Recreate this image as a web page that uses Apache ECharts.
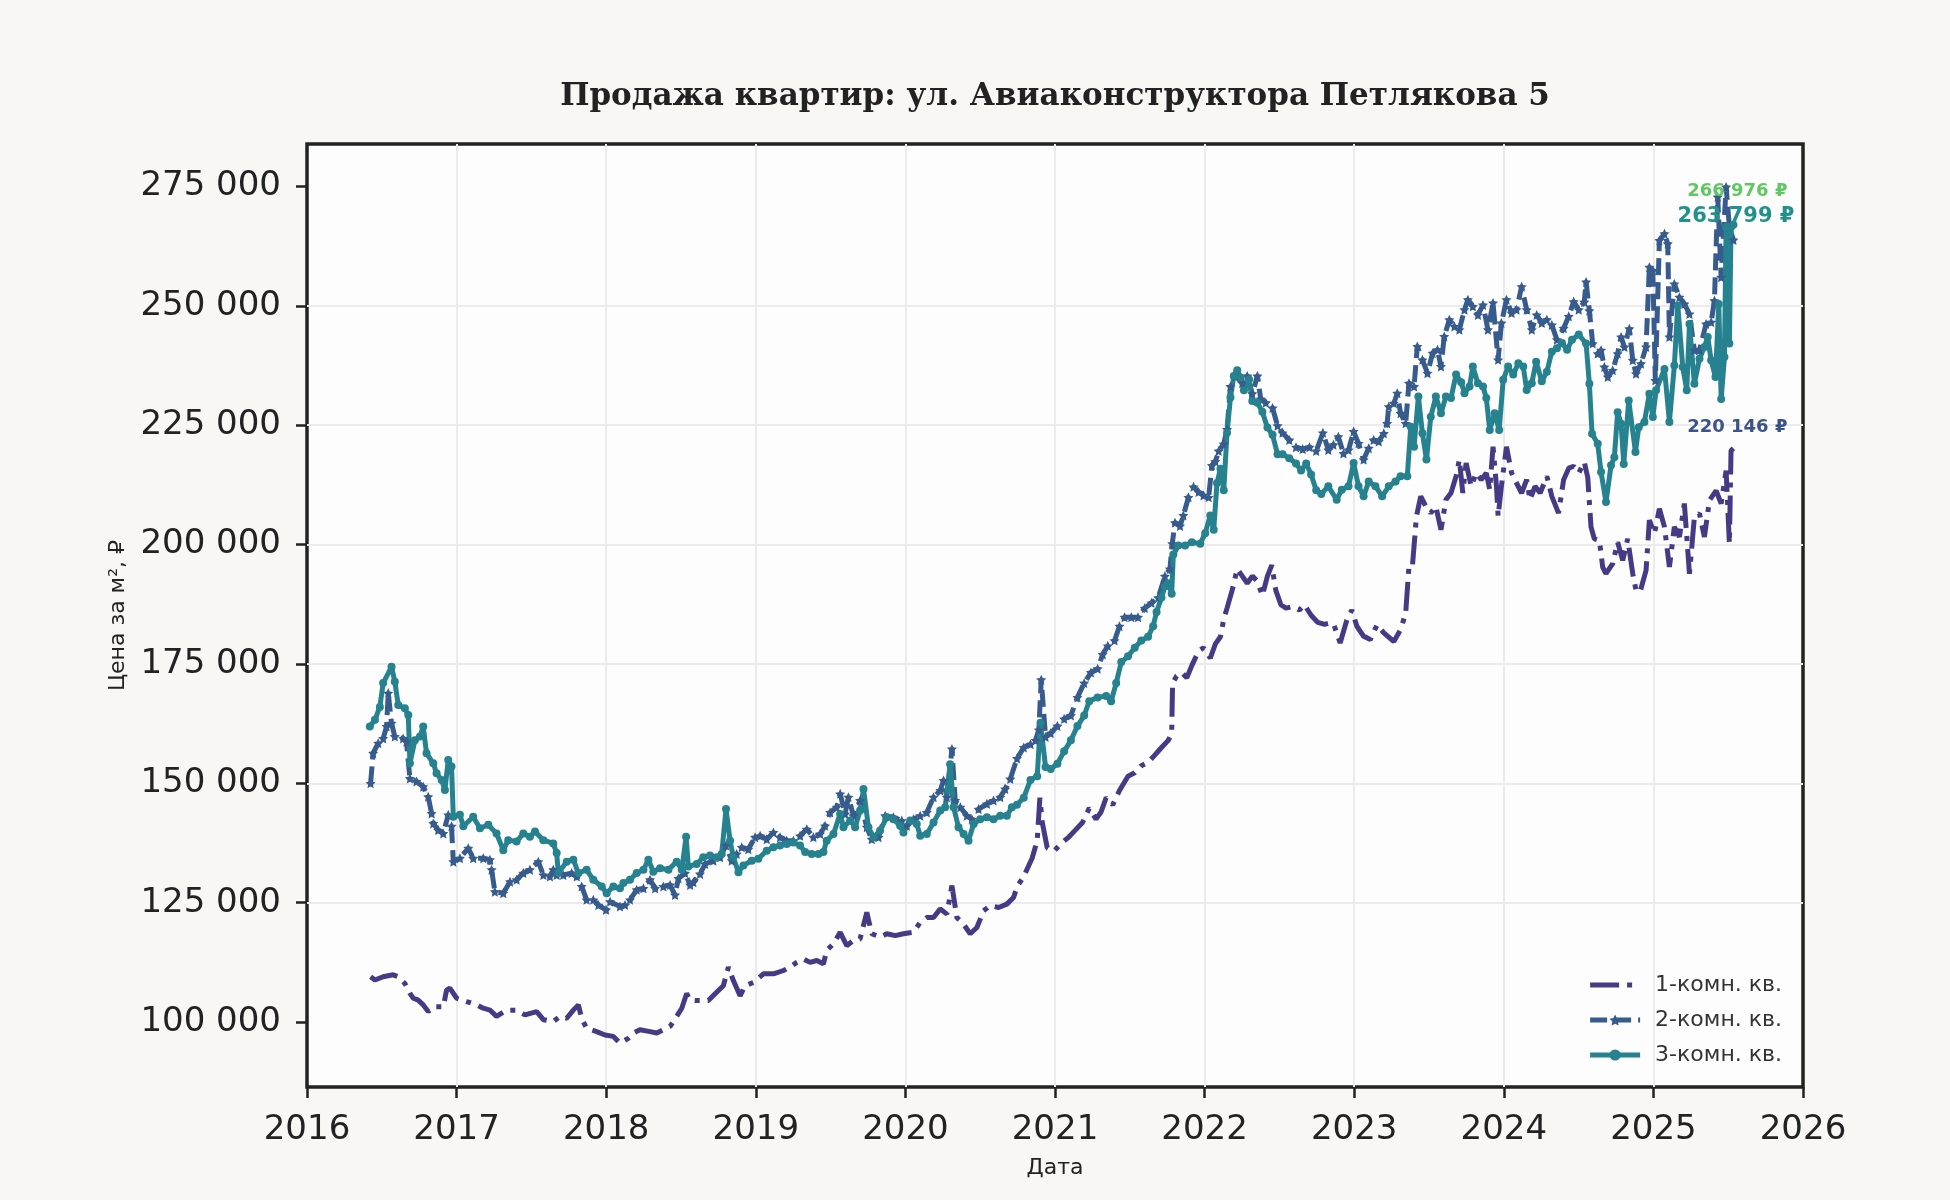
<!DOCTYPE html>
<html>
<head>
<meta charset="utf-8">
<script src="https://cdn.jsdelivr.net/npm/echarts@6.0.0/dist/echarts.min.js"></script>
<style>
  html, body { margin: 0; padding: 0; background: #f8f7f3; }
  #chart { width: 1950px; height: 1200px; }
</style>
</head>
<body>
<div id="chart"></div>
<script>
// [дата (доля года), цена за м²]
const rooms1 = [
  [2016.425,109500],[2016.454,108800],[2016.509,109500],[2016.576,109900],[2016.610,109500],[2016.654,108100],[2016.688,106000],[2016.710,105000],[2016.743,104600],[2016.777,103600],[2016.810,102200],[2016.844,103200],[2016.911,103200],[2016.933,106700],[2016.955,107100],[2017.000,105000],[2017.067,104300],[2017.134,103600],[2017.178,102900],[2017.223,102500],[2017.267,101200],[2017.334,102500],[2017.401,102500],[2017.457,101500],[2017.535,102200],[2017.580,100500],[2017.646,100100],[2017.691,101200],[2017.736,100800],[2017.780,102500],[2017.814,103600],[2017.836,100800],[2017.869,98700],[2017.936,98000],[2017.992,97300],[2018.048,97000],[2018.092,95600],[2018.148,96600],[2018.182,97700],[2018.226,98400],[2018.293,98000],[2018.338,97700],[2018.382,98400],[2018.427,99100],[2018.471,101200],[2018.505,102900],[2018.538,106000],[2018.561,104600],
  [2018.605,104500],[2018.683,104500],[2018.750,106600],[2018.783,107600],[2018.817,111500],[2018.850,108700],[2018.895,105500],[2018.928,107600],[2018.984,108300],[2019.051,110100],[2019.118,110100],[2019.185,110800],[2019.229,111500],[2019.274,112500],[2019.318,113200],[2019.363,112500],[2019.408,112900],[2019.452,112200],[2019.474,115000],[2019.519,116400],[2019.564,118800],[2019.608,116000],[2019.653,117100],[2019.697,117400],[2019.742,123000],[2019.775,118500],[2019.831,117800],[2019.876,118500],[2019.932,118100],[2019.987,118500],[2020.054,118800],[2020.099,120900],[2020.143,121900],[2020.188,121900],[2020.233,123700],[2020.277,122600],[2020.311,128600],[2020.344,121900],[2020.389,120500],[2020.433,118500],[2020.478,119800],[2020.522,123300],[2020.567,124400],[2020.623,124000],[2020.678,124700],[2020.723,126100],
  [2020.746,128300],[2020.791,130500],[2020.847,134300],[2020.881,138000],[2020.899,147000],[2020.915,141800],[2020.948,136500],[2020.993,135800],[2021.038,137300],[2021.094,138800],[2021.139,140300],[2021.184,141800],[2021.229,144800],[2021.274,142500],[2021.308,144000],[2021.342,147000],[2021.386,145500],[2021.431,148500],[2021.488,151500],[2021.533,152200],[2021.577,153700],[2021.622,154400],[2021.667,155900],[2021.712,157500],[2021.757,159000],[2021.780,160500],[2021.786,171000],[2021.813,172500],[2021.847,173200],[2021.881,172100],[2021.915,174700],[2021.960,177700],[2021.993,178400],[2022.038,176200],[2022.072,179200],[2022.106,180700],[2022.128,184400],[2022.150,186700],[2022.184,190400],[2022.218,194900],[2022.252,193400],[2022.285,191900],[2022.319,193400],[2022.353,192300],[2022.386,189300],[2022.420,193400],[2022.449,195700],[2022.476,190400],[2022.510,187400],[2022.544,186700],[2022.589,187000],[2022.634,186300],[2022.667,187400],[2022.712,185200],[2022.757,183700],[2022.802,183300],
  [2022.827,183500],[2022.861,183500],[2022.906,179400],[2022.951,184200],[2022.984,186300],[2023.018,182900],[2023.063,180800],[2023.108,180100],[2023.153,183200],[2023.198,181500],[2023.265,179700],[2023.310,182200],[2023.344,185600],[2023.366,195400],[2023.389,195400],[2023.416,205900],[2023.445,210100],[2023.479,208000],[2023.512,206600],[2023.546,208000],[2023.580,203100],[2023.613,209400],[2023.647,210800],[2023.681,214300],[2023.703,217800],[2023.726,210800],[2023.748,217100],[2023.782,212200],[2023.816,215000],[2023.849,213600],[2023.883,215000],[2023.906,211500],[2023.928,220500],[2023.951,212200],[2023.962,205900],[2023.984,212200],[2024.018,220500],[2024.052,215000],[2024.085,212900],[2024.119,210800],[2024.153,213600],[2024.175,209400],[2024.209,212200],[2024.243,210800],[2024.288,214300],[2024.321,210100],[2024.366,206600],[2024.400,213600],[2024.434,216000],[2024.467,216400],[2024.501,215000],
  [2024.538,217300],[2024.561,214100],[2024.583,203700],[2024.605,201200],[2024.639,200900],[2024.661,195300],[2024.683,193900],[2024.728,196000],[2024.761,200500],[2024.795,196700],[2024.828,201200],[2024.862,193900],[2024.884,190400],[2024.911,190100],[2024.951,194600],[2024.973,205100],[2025.007,202300],[2025.040,207500],[2025.074,203700],[2025.107,195300],[2025.140,203700],[2025.174,201600],[2025.207,208600],[2025.241,193900],[2025.274,205800],[2025.308,206500],[2025.341,201600],[2025.375,209300],[2025.419,211300],[2025.453,208600],[2025.486,215500],[2025.508,200200],[2025.519,219700],[2025.535,220146]
];

const rooms2 = [
  [2016.425,150000],[2016.442,156300],[2016.476,158400],[2016.509,159400],[2016.532,161900],[2016.543,168900],[2016.565,162600],[2016.587,159800],[2016.643,159400],[2016.665,158700],[2016.688,151000],[2016.732,150400],[2016.777,149300],[2016.810,147200],[2016.833,143700],[2016.844,141600],[2016.877,140200],[2016.911,139500],[2016.944,143400],[2016.966,141000],[2016.978,133600],[2017.022,134300],[2017.078,136400],[2017.111,134300],[2017.178,134300],[2017.223,134000],[2017.234,131900],[2017.256,127300],[2017.312,127000],[2017.357,129400],[2017.401,129800],[2017.446,131200],[2017.490,131900],[2017.546,133600],[2017.580,130800],[2017.624,130500],[2017.646,131900],[2017.669,130800],[2017.713,130800],[2017.769,131200],[2017.803,130500],[2017.836,128400],[2017.869,125600],[2017.914,125600],[2017.948,124500],[2017.999,123500],[2018.026,125200],[2018.092,124200],[2018.126,124500],[2018.159,125600],[2018.204,127700],[2018.249,128000],[2018.293,129800],[2018.327,128000],[2018.382,128400],[2018.427,128700],[2018.460,126600],[2018.483,130100],[2018.527,131200],[2018.561,128700],
  [2018.583,129300],[2018.627,131000],[2018.661,133100],[2018.716,133800],[2018.761,134500],[2018.801,137000],[2018.839,133800],[2018.872,135200],[2018.906,136600],[2018.950,136200],[2018.995,138700],[2019.029,139000],[2019.073,138300],[2019.118,139700],[2019.162,138700],[2019.207,138000],[2019.251,138000],[2019.296,139000],[2019.341,140400],[2019.385,138700],[2019.430,139400],[2019.463,141100],[2019.497,143900],[2019.541,145000],[2019.564,147800],[2019.597,143600],[2019.619,147100],[2019.653,143200],[2019.697,146400],[2019.742,140800],[2019.775,138300],[2019.820,138700],[2019.865,143200],[2019.920,142900],[2019.976,142200],[2020.010,141100],[2020.054,142500],[2020.099,143200],[2020.143,143900],[2020.188,147100],[2020.233,148500],[2020.255,150600],[2020.277,147100],[2020.311,157200],[2020.333,146400],[2020.367,145000],[2020.411,143200],[2020.444,142500],[2020.489,144600],[2020.545,145700],[2020.589,146400],[2020.634,147100],[2020.667,148800],[2020.701,150900],
  [2020.746,155200],[2020.791,157500],[2020.836,158200],[2020.870,159000],[2020.892,161200],[2020.908,171700],[2020.937,159700],[2020.971,160500],[2021.016,162000],[2021.061,163500],[2021.106,164200],[2021.150,168000],[2021.195,171000],[2021.240,173200],[2021.285,174000],[2021.319,177000],[2021.353,178800],[2021.398,179900],[2021.431,182900],[2021.465,184800],[2021.510,184800],[2021.555,184800],[2021.600,186700],[2021.645,187800],[2021.690,188900],[2021.735,193400],[2021.768,194900],[2021.784,200200],[2021.802,204600],[2021.836,203900],[2021.858,206100],[2021.892,209900],[2021.926,212100],[2021.960,211000],[2021.993,210300],[2022.027,209900],[2022.049,216600],[2022.072,217400],[2022.094,219600],[2022.128,221100],[2022.150,224100],[2022.173,233100],[2022.207,235300],[2022.252,233800],[2022.285,235300],[2022.319,231600],[2022.353,235300],[2022.375,230500],[2022.409,229700],[2022.454,228600],[2022.488,224900],[2022.521,223400],[2022.566,221900],[2022.611,220400],[2022.656,220000],[2022.701,220400],[2022.746,219600],[2022.791,223400],
  [2022.827,219800],[2022.861,220900],[2022.894,222600],[2022.928,219100],[2022.962,219800],[2022.996,223700],[2023.029,221200],[2023.063,217800],[2023.097,220200],[2023.130,221900],[2023.164,221600],[2023.198,223300],[2023.220,225400],[2023.231,228900],[2023.265,229600],[2023.288,231700],[2023.310,227500],[2023.344,225400],[2023.366,233800],[2023.400,233100],[2023.422,241500],[2023.456,238700],[2023.490,235900],[2023.524,240100],[2023.557,240800],[2023.580,237300],[2023.602,243600],[2023.636,247100],[2023.670,245700],[2023.703,245000],[2023.737,249200],[2023.760,251300],[2023.793,249900],[2023.827,248100],[2023.861,250200],[2023.894,245000],[2023.928,250600],[2023.962,238700],[2023.984,246400],[2024.018,251300],[2024.052,248500],[2024.085,249200],[2024.119,254000],[2024.153,249200],[2024.187,245000],[2024.220,248100],[2024.254,246400],[2024.288,247100],[2024.321,246000],[2024.355,242900],[2024.400,245300],[2024.434,247800],[2024.467,250900],[2024.501,249200],
  [2024.538,250800],[2024.550,255000],[2024.572,249000],[2024.594,242100],[2024.628,240000],[2024.650,240700],[2024.672,237200],[2024.695,235100],[2024.728,236500],[2024.761,240000],[2024.784,243500],[2024.806,241400],[2024.839,245200],[2024.862,238600],[2024.884,235800],[2024.917,237900],[2024.951,241400],[2024.973,258100],[2024.996,257400],[2025.013,234400],[2025.040,263700],[2025.074,265100],[2025.096,263000],[2025.107,243500],[2025.140,254600],[2025.174,251800],[2025.207,250400],[2025.241,248300],[2025.274,240700],[2025.308,240700],[2025.352,246200],[2025.386,246600],[2025.408,251100],[2025.430,272800],[2025.453,256000],[2025.486,274900],[2025.508,266500],[2025.535,263799]
];

const rooms3 = [
  [2016.420,161900],[2016.454,163300],[2016.487,166000],[2016.509,171000],[2016.565,174400],[2016.587,171300],[2016.610,166400],[2016.654,165700],[2016.677,164300],[2016.688,154200],[2016.721,159000],[2016.755,159800],[2016.777,161900],[2016.799,156300],[2016.844,154200],[2016.866,152100],[2016.900,150700],[2016.922,148600],[2016.944,154900],[2016.966,153500],[2016.978,143000],[2017.022,143400],[2017.045,141000],[2017.111,143000],[2017.156,140600],[2017.212,141300],[2017.267,139500],[2017.312,136000],[2017.345,138100],[2017.401,137800],[2017.446,139500],[2017.490,138800],[2017.524,139900],[2017.580,138100],[2017.646,137400],[2017.669,135400],[2017.680,131200],[2017.736,133600],[2017.780,134000],[2017.814,131200],[2017.869,131900],[2017.914,129800],[2017.970,128400],[2018.003,127000],[2018.048,128400],[2018.092,128000],[2018.115,129100],[2018.159,129800],[2018.204,131200],[2018.249,131900],[2018.282,134000],[2018.315,131500],[2018.360,132200],[2018.416,131900],[2018.471,133600],[2018.505,131900],[2018.534,138800],[2018.549,132600],
  [2018.605,133100],[2018.649,134500],[2018.694,134900],[2018.739,134500],[2018.772,135200],[2018.801,144600],[2018.828,138000],[2018.850,134500],[2018.884,131400],[2018.917,132800],[2018.973,133800],[2019.017,134200],[2019.073,135900],[2019.118,136600],[2019.162,137000],[2019.207,137300],[2019.251,137600],[2019.296,137000],[2019.330,135600],[2019.374,135200],[2019.419,135200],[2019.452,135600],[2019.474,138000],[2019.519,139400],[2019.564,143600],[2019.586,140800],[2019.631,142200],[2019.664,140800],[2019.697,144300],[2019.720,148800],[2019.753,140800],[2019.787,138700],[2019.831,140100],[2019.876,142900],[2019.920,142500],[2019.965,141100],[2019.987,139700],[2020.032,142200],[2020.076,141500],[2020.099,139000],[2020.143,139400],[2020.188,141800],[2020.233,144300],[2020.266,145000],[2020.299,154000],[2020.322,145000],[2020.355,140800],[2020.389,139400],[2020.422,138000],[2020.456,141500],[2020.500,142500],[2020.545,142900],[2020.589,142500],[2020.634,143200],[2020.678,143200],[2020.712,145000],
  [2020.746,145500],[2020.791,147000],[2020.836,150700],[2020.881,151500],[2020.903,162700],[2020.937,153400],[2020.971,153000],[2021.016,154100],[2021.061,156700],[2021.106,159000],[2021.150,162000],[2021.195,164200],[2021.229,167200],[2021.285,168000],[2021.342,168300],[2021.375,167200],[2021.409,171000],[2021.443,175400],[2021.488,176600],[2021.533,178400],[2021.577,179900],[2021.622,180700],[2021.656,182900],[2021.679,185900],[2021.712,188900],[2021.735,191200],[2021.757,191900],[2021.780,189700],[2021.791,197900],[2021.825,199800],[2021.870,199800],[2021.915,200500],[2021.971,200200],[2022.004,202400],[2022.038,206100],[2022.061,203100],[2022.083,212900],[2022.106,215900],[2022.128,211400],[2022.150,223400],[2022.173,230800],[2022.195,235300],[2022.218,236500],[2022.240,235000],[2022.263,232300],[2022.297,234600],[2022.319,230100],[2022.353,229700],[2022.386,227800],[2022.420,224500],[2022.454,223000],[2022.488,218900],[2022.521,218900],[2022.566,218100],[2022.611,217000],[2022.645,215500],[2022.679,217000],[2022.712,214700],[2022.746,211400],[2022.780,210600],
  [2022.827,212200],[2022.883,209400],[2022.917,211500],[2022.962,212200],[2022.996,217100],[2023.029,212200],[2023.063,210100],[2023.097,213200],[2023.142,212200],[2023.187,210100],[2023.231,212200],[2023.276,213200],[2023.310,214300],[2023.355,214300],[2023.378,224700],[2023.400,220500],[2023.429,231000],[2023.456,223300],[2023.483,217800],[2023.512,226800],[2023.546,231000],[2023.580,227500],[2023.613,231000],[2023.647,230700],[2023.681,235600],[2023.715,234000],[2023.737,231700],[2023.771,233100],[2023.793,237300],[2023.827,233800],[2023.861,233100],[2023.883,230700],[2023.906,224000],[2023.939,227500],[2023.969,224000],[2023.996,234500],[2024.029,237300],[2024.063,235600],[2024.097,238000],[2024.130,237300],[2024.153,232400],[2024.187,233800],[2024.216,238300],[2024.254,234200],[2024.288,236200],[2024.321,240400],[2024.355,241100],[2024.389,242200],[2024.423,240800],[2024.456,242900],[2024.501,244000],
  [2024.550,242100],[2024.572,233700],[2024.590,223200],[2024.628,221100],[2024.650,215200],[2024.683,208900],[2024.717,216600],[2024.739,218300],[2024.761,227700],[2024.784,225300],[2024.802,216900],[2024.835,230200],[2024.880,219400],[2024.902,224600],[2024.940,225700],[2024.973,231600],[2024.996,226700],[2025.018,232300],[2025.074,236800],[2025.107,225700],[2025.140,237500],[2025.163,250100],[2025.196,237200],[2025.223,232300],[2025.241,246200],[2025.274,233700],[2025.308,238900],[2025.341,241400],[2025.363,243500],[2025.386,238600],[2025.415,235100],[2025.437,250400],[2025.453,230500],[2025.475,239300],[2025.486,266500],[2025.508,242100],[2025.519,266500],[2025.535,266976]
];

const seriesNames = ['1-комн. кв.', '2-комн. кв.', '3-комн. кв.'];
const yTicks = [100000, 125000, 150000, 175000, 200000, 225000, 250000, 275000];

const lineColors = ['#473a84', '#375b8d', '#26828e'];
const labelColors = ['#3b528b', '#21918c', '#5ec962'];

const fmt = v => String(Math.round(v)).replace(/\B(?=(\d{3})+(?!\d))/g, ' ');

function endLabel(data, color, size, dx, dy) {
    const last = data[data.length - 1];
    return {
        symbol: 'circle',
        symbolSize: 0,
        silent: true,
        data: [{ coord: last, value: last[1] }],
        label: {
            show: true,
            position: 'inside',
            align: 'right',
            verticalAlign: 'middle',
            offset: [dx, dy],
            formatter: p => fmt(p.value) + ' ₽',
            color: color,
            fontSize: size,
            fontWeight: 'bold',
            fontFamily: 'DejaVu Sans'
        }
    };
}

const chart = echarts.init(document.getElementById('chart'));

const option = {
    backgroundColor: '#f8f7f3',
    animation: false,
    title: {
        text: 'Продажа квартир: ул. Авиаконструктора Петлякова 5',
        left: 1055,
        top: 81,
        padding: 0,
        textAlign: 'center',
        textStyle: { fontFamily: 'DejaVu Serif', fontWeight: 'bold', fontSize: 31, color: '#222' }
    },
    grid: {
        left: 307, right: 147, top: 144, bottom: 113,
        show: true,
        backgroundColor: '#fdfdfd',
        borderColor: '#222',
        borderWidth: 3.5
    },
    legend: {
        orient: 'vertical',
        right: 168,
        bottom: 134,
        padding: 0,
        itemWidth: 50,
        itemHeight: 14,
        itemGap: 13,
        lineStyle: { width: 5 },
        data: [
            { name: seriesNames[0], itemStyle: { opacity: 0 } },
            { name: seriesNames[1] },
            { name: seriesNames[2] }
        ],
        textStyle: { fontSize: 22, color: '#333', fontFamily: 'DejaVu Sans', padding: [0, 0, 0, 10] }
    },
    xAxis: {
        type: 'value',
        min: 2016,
        max: 2026,
        interval: 1,
        name: 'Дата',
        nameLocation: 'middle',
        nameGap: 70,
        nameTextStyle: { fontSize: 22, color: '#222', fontFamily: 'DejaVu Sans' },
        axisLine: { show: false },
        axisTick: { show: true, length: 11, lineStyle: { color: '#222', width: 2.5 } },
        axisLabel: { formatter: v => String(v), fontSize: 34, color: '#222', margin: 26, fontFamily: 'DejaVu Sans' },
        splitLine: { show: true, showMinLine: false, showMaxLine: false, lineStyle: { color: '#ebebeb', width: 2 } }
    },
    yAxis: {
        type: 'value',
        min: 86400,
        max: 283900,
        minInterval: 25000,
        maxInterval: 25000,
        name: 'Цена за м², ₽',
        nameLocation: 'middle',
        nameGap: 178,
        nameRotate: 90,
        nameTextStyle: { fontSize: 22, color: '#222', fontFamily: 'DejaVu Sans' },
        axisLine: { show: false },
        axisTick: { show: true, length: 11, customValues: yTicks, lineStyle: { color: '#222', width: 2.5 } },
        axisLabel: { customValues: yTicks, formatter: v => fmt(v), fontSize: 34, color: '#222', margin: 26, fontFamily: 'DejaVu Sans' },
        splitLine: { show: true, showMinLine: false, showMaxLine: false, lineStyle: { color: '#ebebeb', width: 2 } }
    },
    series: [
        {
            name: seriesNames[0],
            type: 'line',
            data: rooms1,
            symbol: 'none',
            lineStyle: { color: lineColors[0], width: 5, type: [29, 8, 5, 8] },
            itemStyle: { color: lineColors[0] },
            markPoint: endLabel(rooms1, labelColors[0], 18, 54, -21)
        },
        {
            name: seriesNames[1],
            type: 'line',
            data: rooms2,
            symbol: 'path://M0,-10L2.9,-4L9.5,-3.1L4.7,1.5L5.9,8.1L0,5L-5.9,8.1L-4.7,1.5L-9.5,-3.1L-2.9,-4Z',
            symbolSize: 10,
            showAllSymbol: true,
            lineStyle: { color: lineColors[1], width: 5, type: [17, 7] },
            itemStyle: { color: lineColors[1] },
            markPoint: endLabel(rooms2, labelColors[1], 21, 61, -23)
        },
        {
            name: seriesNames[2],
            type: 'line',
            data: rooms3,
            symbol: 'circle',
            symbolSize: 8,
            showAllSymbol: true,
            lineStyle: { color: lineColors[2], width: 5, type: 'solid' },
            itemStyle: { color: lineColors[2] },
            markPoint: endLabel(rooms3, labelColors[2], 18, 54, -33)
        }
    ]
};

chart.setOption(option);
</script>
</body>
</html>
